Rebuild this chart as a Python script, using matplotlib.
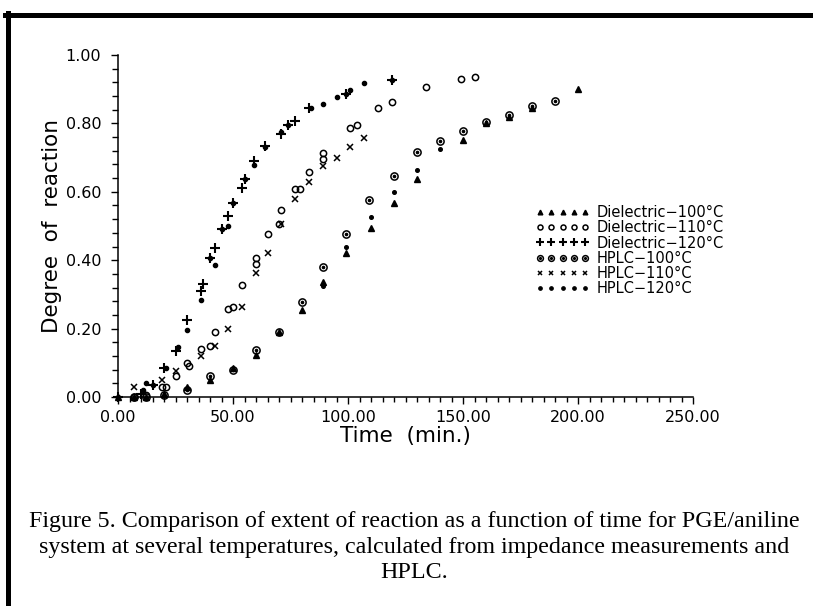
import matplotlib
matplotlib.use("Agg")
import matplotlib.pyplot as plt
from matplotlib.lines import Line2D
from matplotlib.legend_handler import HandlerTuple
from matplotlib.ticker import MultipleLocator, FormatStrFormatter

# ---------------- data ----------------
diel100_t = [0, 7, 12, 20, 30, 40, 50, 60, 70, 80, 89, 99, 110, 120, 130, 150, 160, 170, 180, 200]
diel100_d = [0, 0, 0, 0.01, 0.03, 0.05, 0.085, 0.124, 0.19, 0.254, 0.335, 0.42, 0.493, 0.568,
             0.637, 0.751, 0.80, 0.82, 0.845, 0.90]
# second small-dot markers between HPLC-100 and Dielectric-100 points
diel100b_t = [89, 99, 110, 120, 130, 140]
diel100b_d = [0.325, 0.44, 0.525, 0.60, 0.664, 0.724]

diel110_t = [7, 12, 19, 21, 25, 30, 31, 36, 40, 42, 48, 50, 54, 60, 60, 65, 70, 71, 77, 79, 83,
             89, 89, 101, 104, 113, 119, 134, 149, 155]
diel110_d = [0, 0.005, 0.03, 0.03, 0.06, 0.10, 0.09, 0.14, 0.15, 0.19, 0.256, 0.262, 0.327, 0.39,
             0.405, 0.478, 0.505, 0.547, 0.607, 0.607, 0.659, 0.695, 0.712, 0.788, 0.795, 0.844,
             0.863, 0.905, 0.93, 0.935]

diel120_t = [0, 10, 15, 20, 25, 30, 36, 37, 40, 42, 45, 48, 50, 54, 55, 59, 64, 71, 74, 77, 83, 99, 119]
diel120_d = [0, 0.01, 0.035, 0.085, 0.135, 0.225, 0.31, 0.33, 0.405, 0.435, 0.49, 0.53, 0.566,
             0.61, 0.637, 0.69, 0.735, 0.77, 0.795, 0.808, 0.845, 0.886, 0.927]

hplc100_t = [7, 12, 20, 30, 40, 50, 60, 70, 80, 89, 99, 109, 120, 130, 140, 150, 160, 170, 180, 190]
hplc100_d = [0, 0, 0.005, 0.02, 0.06, 0.08, 0.137, 0.19, 0.279, 0.38, 0.478, 0.577, 0.645, 0.715,
             0.75, 0.778, 0.805, 0.825, 0.85, 0.865]

hplc110_t = [7, 19, 25, 36, 42, 48, 54, 60, 65, 71, 77, 83, 89, 95, 101, 107]
hplc110_d = [0.03, 0.05, 0.075, 0.12, 0.148, 0.20, 0.264, 0.362, 0.422, 0.505, 0.58, 0.63, 0.675,
             0.70, 0.732, 0.757]

hplc120_t = [0, 11, 12, 15, 21, 26, 30, 36, 40, 42, 45, 48, 50, 55, 59, 64, 71, 74, 84, 89, 95,
             99, 101, 107, 119]
hplc120_d = [0, 0.02, 0.04, 0.035, 0.085, 0.145, 0.196, 0.284, 0.405, 0.386, 0.49, 0.50, 0.566,
             0.637, 0.678, 0.73, 0.776, 0.795, 0.844, 0.858, 0.878, 0.886, 0.898, 0.917, 0.927]

labels = ["Dielectric\u2212100\u00b0C", "Dielectric\u2212110\u00b0C", "Dielectric\u2212120\u00b0C",
          "HPLC\u2212100\u00b0C", "HPLC\u2212110\u00b0C", "HPLC\u2212120\u00b0C"]
x_ticks = [0, 50, 100, 150, 200, 250]
y_ticks = [0, 0.2, 0.4, 0.6, 0.8, 1.0]
caption = ["Figure 5. Comparison of extent of reaction as a function of time for PGE/aniline",
           "system at several temperatures, calculated from impedance measurements and",
           "HPLC."]

# ---------------- figure ----------------
plt.rcParams['font.family'] = ['DejaVu Sans']
fig = plt.figure(figsize=(8.13, 6.06), dpi=100)
W, H = 813.0, 606.0
ax = fig.add_axes([118 / W, 1 - 397 / H, (693 - 118) / W, (397 - 55) / H])

k = dict(linestyle='none', color='black', clip_on=False)
h1, = ax.plot(diel100_t, diel100_d, marker='^', ms=4.2, mec='black', mfc='black', **k)
ax.plot(diel100b_t, diel100b_d, marker='o', ms=2.6, mec='black', mfc='black', **k)
h2, = ax.plot(diel110_t, diel110_d, marker='o', ms=4.5, mfc='none', mec='black', mew=1.1, **k)
h3, = ax.plot(diel120_t, diel120_d, marker='+', ms=6.5, mew=1.5, **k)
h4a, = ax.plot(hplc100_t, hplc100_d, marker='o', ms=5.2, mfc='none', mec='black', mew=1.1, **k)
h4b, = ax.plot(hplc100_t, hplc100_d, marker='o', ms=1.6, mfc='black', mec='black', **k)
h5, = ax.plot(hplc110_t, hplc110_d, marker='x', ms=3.8, mew=1.1, **k)
h6, = ax.plot(hplc120_t, hplc120_d, marker='o', ms=3.0, mfc='black', mec='black', **k)

ax.set_xlim(0, 250)
ax.set_ylim(0, 1)
for s in ['top', 'right']:
    ax.spines[s].set_visible(False)
for s in ['left', 'bottom']:
    ax.spines[s].set_linewidth(1.1)

ax.set_xticks(x_ticks)
ax.set_yticks(y_ticks)
ax.xaxis.set_minor_locator(MultipleLocator(5))
ax.yaxis.set_minor_locator(MultipleLocator(0.04))
ax.xaxis.set_major_formatter(FormatStrFormatter('%.2f'))
ax.yaxis.set_major_formatter(FormatStrFormatter('%.2f'))
ax.tick_params(axis='both', which='both', direction='out', width=1.0, labelsize=11.5)
ax.tick_params(axis='x', which='major', length=5, pad=4)
ax.tick_params(axis='x', which='minor', length=3.5)
ax.tick_params(axis='y', which='major', length=5, pad=7)
ax.tick_params(axis='y', which='minor', length=4)

ax.set_xlabel("Time  (min.)", fontsize=15.5, labelpad=1)
ax.set_ylabel("Degree  of  reaction", fontsize=15.5, labelpad=3)

leg = fig.legend([h1, h2, h3, (h4a, h4b), h5, h6], labels,
                 handler_map={tuple: HandlerTuple(ndivide=1)},
                 loc='upper left', bbox_to_anchor=(536 / W, 1 - 205 / H),
                 numpoints=5, markerscale=0.8, handlelength=3.65, handletextpad=0.5,
                 labelspacing=0.02, borderpad=0, borderaxespad=0, frameon=False, fontsize=10.5)

# page frame (top and left border)
fig.add_artist(Line2D([5 / W, 1], [1 - 14.5 / H, 1 - 14.5 / H], lw=3.6, color='black',
                      transform=fig.transFigure))
fig.add_artist(Line2D([7.5 / W, 7.5 / W], [0, 1 - 12.5 / H], lw=3.6, color='black',
                      transform=fig.transFigure))

for line, yy in zip(caption, [522, 547, 572]):
    fig.text(414 / W, 1 - yy / H, line, ha='center', va='center',
             family=['Liberation Serif'], fontsize=17.3)

fig.savefig("out.png", dpi=100)
